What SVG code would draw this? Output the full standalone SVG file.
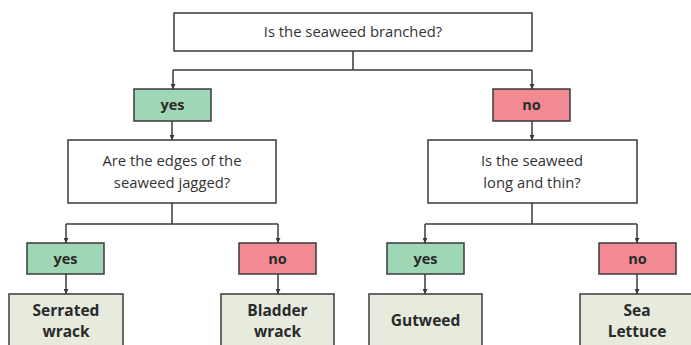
<svg xmlns="http://www.w3.org/2000/svg" width="691" height="345" viewBox="0 0 691 345">
<defs>
<style>
.q{fill:#fff;stroke:#3a3a3a;stroke-width:1.5}
.y{fill:#9fd6b6;stroke:#3a3a3a;stroke-width:1.5}
.n{fill:#f28a93;stroke:#3a3a3a;stroke-width:1.5}
.l{fill:#e7ebdd;stroke:#3a3a3a;stroke-width:1.5}
.qt{font-family:"Open Sans","Noto Sans",sans-serif;font-size:14.8px;fill:#333;text-anchor:middle}
.bt{font-family:"Open Sans","Noto Sans",sans-serif;font-size:14.5px;font-weight:bold;fill:#2a2a2a;text-anchor:middle}
.lt{font-family:"Open Sans","Noto Sans",sans-serif;font-size:15.5px;font-weight:bold;fill:#2a2a2a;text-anchor:middle}
.c{fill:none;stroke:#3a3a3a;stroke-width:1.5}
</style>
<marker id="ah" viewBox="0 0 10 10" refX="10" refY="5" markerWidth="5" markerHeight="5" orient="auto" markerUnits="userSpaceOnUse">
<path d="M0,0 L10,5 L0,10 z" fill="#3a3a3a"/>
</marker>
</defs>
<g id="connectors">
<path class="c" d="M353,51 V70"/>
<path class="c" d="M173,70 H532"/>
<path class="c" d="M173,70 V89" marker-end="url(#ah)"/>
<path class="c" d="M532,70 V89" marker-end="url(#ah)"/>
<path class="c" d="M172,121 V140" marker-end="url(#ah)"/>
<path class="c" d="M532,121 V140" marker-end="url(#ah)"/>
<path class="c" d="M172,203 V224"/>
<path class="c" d="M66,224 H278"/>
<path class="c" d="M66,224 V243" marker-end="url(#ah)"/>
<path class="c" d="M278,224 V243" marker-end="url(#ah)"/>
<path class="c" d="M532,203 V224"/>
<path class="c" d="M425,224 H637"/>
<path class="c" d="M425,224 V243" marker-end="url(#ah)"/>
<path class="c" d="M637,224 V243" marker-end="url(#ah)"/>
<path class="c" d="M66,274 V294" marker-end="url(#ah)"/>
<path class="c" d="M278,274 V294" marker-end="url(#ah)"/>
<path class="c" d="M425,274 V294" marker-end="url(#ah)"/>
<path class="c" d="M637,274 V294" marker-end="url(#ah)"/>
</g>
<g id="q1"><rect class="q" x="174" y="13" width="358" height="38"/><text class="qt" x="353" y="37">Is the seaweed branched?</text></g>
<g id="yes1"><rect class="y" x="134" y="89" width="77" height="32"/><text class="bt" x="172.5" y="110">yes</text></g>
<g id="no1"><rect class="n" x="493" y="89" width="77" height="32"/><text class="bt" x="531.5" y="110">no</text></g>
<g id="q2"><rect class="q" x="68" y="140" width="208" height="63"/><text class="qt" x="172" y="166">Are the edges of the</text><text class="qt" x="172" y="188">seaweed jagged?</text></g>
<g id="q3"><rect class="q" x="428" y="140" width="209" height="63"/><text class="qt" x="532" y="166">Is the seaweed</text><text class="qt" x="532" y="188">long and thin?</text></g>
<g id="yes2"><rect class="y" x="27" y="243" width="77" height="31"/><text class="bt" x="65.5" y="264">yes</text></g>
<g id="no2"><rect class="n" x="239" y="243" width="77" height="31"/><text class="bt" x="277.5" y="264">no</text></g>
<g id="yes3"><rect class="y" x="387" y="243" width="77" height="31"/><text class="bt" x="425.5" y="264">yes</text></g>
<g id="no3"><rect class="n" x="599" y="243" width="77" height="31"/><text class="bt" x="637.5" y="264">no</text></g>
<g id="serrated"><rect class="l" x="9" y="294" width="114" height="60"/><text class="lt" x="66" y="316">Serrated</text><text class="lt" x="66" y="337">wrack</text></g>
<g id="bladder"><rect class="l" x="221" y="294" width="113" height="60"/><text class="lt" x="277.5" y="316">Bladder</text><text class="lt" x="277.5" y="337">wrack</text></g>
<g id="gutweed"><rect class="l" x="369" y="294" width="113" height="60"/><text class="lt" x="425.5" y="326">Gutweed</text></g>
<g id="sealettuce"><rect class="l" x="580" y="294" width="120" height="60"/><text class="lt" x="637" y="316">Sea</text><text class="lt" x="637" y="337">Lettuce</text></g>
</svg>
